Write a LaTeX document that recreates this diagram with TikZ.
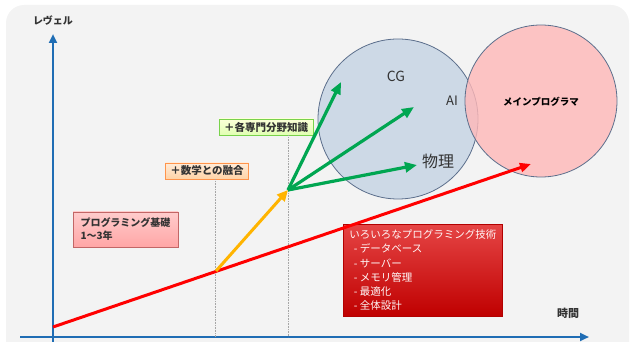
\documentclass[tikz,border=0pt]{standalone}
\usepackage{fontspec}
\setmainfont{Noto Sans CJK JP}
\usetikzlibrary{arrows.meta}
\definecolor{bgc}{HTML}{F3F3F3}
\definecolor{axisc}{HTML}{1F6DB4}
\definecolor{ringc}{HTML}{5C6F8C}
\definecolor{bluefill}{HTML}{CDD9E6}
\definecolor{pinkfill}{HTML}{FFB8B8}
\definecolor{greenc}{HTML}{00A651}
\definecolor{orangec}{HTML}{FFB400}
\definecolor{txtc}{HTML}{333333}
\begin{document}
\begin{tikzpicture}[x=1pt,y=-1pt,
  axis/.style={draw=axisc,line width=2.4pt,-{Triangle[length=9pt,width=8pt]}},
  grn/.style={draw=greenc,line width=3.2pt,-{Triangle[length=12pt,width=10pt]}},
  guide/.style={draw=gray!70,line width=0.6pt,densely dotted},
  lbl/.style={text=txtc,font=\fontsize{10}{12}\selectfont\bfseries,inner sep=0pt},
  tagbox/.style={draw,line width=0.6pt,inner xsep=5pt,inner ysep=3pt,font=\fontsize{10.5}{13}\selectfont\bfseries,text=txtc}]
\useasboundingbox (0,0) rectangle (630,342);
\begin{scope}
\clip (0,0) rectangle (630,342);
\fill[bgc,rounded corners=18pt] (6,5) rectangle (629,380);
\end{scope}
% circles
\node[circle,draw=ringc,line width=0.8pt,fill=bluefill,minimum size=160pt,inner sep=0pt] (blue) at (398,119) {};
\node[circle,draw=ringc,line width=0.8pt,fill=pinkfill,fill opacity=0.8,minimum size=152pt,inner sep=0pt] (pink) at (541,101) {};
\node[text=txtc,font=\fontsize{14}{16}\selectfont,inner sep=0pt] (cg) at (396,76) {CG};
\node[text=txtc,font=\fontsize{13}{16}\selectfont,inner sep=0pt] (ai) at (452,101) {AI};
\node[text=txtc,font=\fontsize{16}{18}\selectfont,inner sep=0pt] (phys) at (438,161) {物理};
\node[text=black,font=\fontsize{9.5}{12}\selectfont\bfseries,inner sep=0pt] (mainp) at (541,102) {メインプログラマ};
% axes
\coordinate (ybot) at (53,342);
\coordinate (ytop) at (53,34);
\coordinate (xl) at (20,337);
\coordinate (xr) at (589,337);
\draw[axis] (ybot) -- (ytop);
\draw[axis] (xl) -- (xr);
\node[lbl] (ylab) at (53,21) {レヴェル};
\node[lbl,font=\fontsize{11}{13}\selectfont\bfseries] (xlab) at (568,313) {時間};
% boxes
\node[tagbox,draw=orange!80!red!70,top color=orange!15,bottom color=orange!35] (math) at (207,171) {＋数学との融合};
\node[tagbox,draw=green!50!olive!70,top color=green!8!yellow!15,bottom color=green!40!yellow!30] (spec) at (266,127) {＋各専門分野知識};
\node[tagbox,draw=red!60!black!60,top color=red!20,bottom color=red!35,align=left,font=\fontsize{10}{13}\selectfont\bfseries,minimum width=105pt,minimum height=35pt] (base) at (125.5,229.5) {プログラミング基礎\\1〜3年};
\node[draw=red!70!black,line width=0.5pt,top color=red!70!white!90!black,bottom color=red!75!black,text=white!90!pink,align=left,anchor=north west,font=\fontsize{10.5}{14.2}\selectfont,inner xsep=4pt,inner ysep=4pt,minimum width=159pt,minimum height=92pt] (tech) at (343,224) {いろいろなプログラミング技術\\\ \ - データベース\\\ \ - サーバー\\\ \ - メモリ管理\\\ \ - 最適化\\\ \ - 全体設計};
% guides
\coordinate (g1b) at (215,337);
\coordinate (g2b) at (288,337);
\draw[guide] (math.south -| g1b) -- (g1b);
\draw[guide] (spec.south -| g2b) -- (g2b);
% growth
\coordinate (r0) at (53,327);
\coordinate (r1) at (531,164);
\coordinate (o0) at (216,271);
\coordinate (hub) at (288,190);
\draw[red,line width=3pt,-{Triangle[length=11pt,width=9pt]}] (r0) -- (r1);
\draw[orangec,line width=3pt,-{Triangle[length=11pt,width=10pt]}] (o0) -- (hub);
\coordinate (t1) at (341,82);
\coordinate (t2) at (414,107);
\coordinate (t3) at (417,165);
\draw[grn] (hub) -- (t1);
\draw[grn] (hub) -- (t2);
\draw[grn] (hub) -- (t3);
\end{tikzpicture}
\end{document}
